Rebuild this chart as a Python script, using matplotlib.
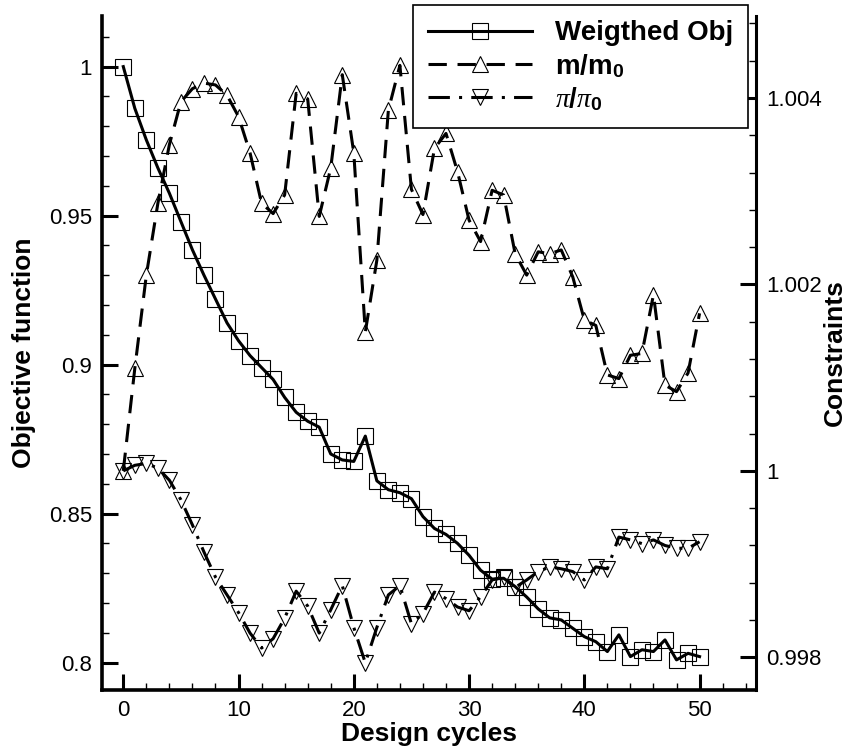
import numpy as np
import matplotlib
matplotlib.use("Agg")
import matplotlib.pyplot as plt
from matplotlib.ticker import MultipleLocator

plt.rcParams["font.family"] = ["Liberation Sans", "DejaVu Sans"]
plt.rcParams["mathtext.fontset"] = "custom"
plt.rcParams["mathtext.rm"] = "Liberation Sans:bold"
plt.rcParams["mathtext.bf"] = "Liberation Sans:bold"
plt.rcParams["mathtext.it"] = "Liberation Serif:italic"

cycles = np.arange(0, 51)

# weighted objective (left axis)
weighted_obj = [
    1.000, 0.986, 0.9754, 0.966, 0.9575, 0.948, 0.9385, 0.930, 0.922, 0.914,
    0.908, 0.903, 0.899, 0.895, 0.889, 0.884, 0.881, 0.879, 0.870, 0.868,
    0.8675, 0.876, 0.861, 0.858, 0.857, 0.855, 0.849, 0.845, 0.843, 0.840,
    0.836, 0.831, 0.828, 0.8283, 0.8255, 0.822, 0.818, 0.815, 0.8143, 0.8115,
    0.8087, 0.807, 0.8037, 0.8093, 0.802, 0.8043, 0.8037, 0.8076, 0.8009, 0.8031,
    0.802,
]

# constraints (right axis)
mass_ratio = [
    1.0000, 1.0011, 1.0021, 1.00287, 1.0035, 1.00396, 1.0041, 1.00416, 1.00414, 1.00403,
    1.0038, 1.00341, 1.00287, 1.00276, 1.00296, 1.00405, 1.00399, 1.00273, 1.00325, 1.00425,
    1.00341, 1.00149, 1.00226, 1.00387, 1.00435, 1.00302, 1.00275, 1.00346, 1.00362, 1.00321,
    1.00269, 1.00246, 1.00301, 1.00296, 1.00233, 1.0021, 1.00235, 1.00233, 1.00237, 1.00208,
    1.00162, 1.00156, 1.00103, 1.00099, 1.00124, 1.00126, 1.00189, 1.00092, 1.00085, 1.00105,
    1.00169,
]
pressure_ratio = [
    1.0000, 1.00006, 1.00008, 1.00003, 0.9999, 0.99969, 0.99942, 0.99913, 0.99886, 0.99867,
    0.99848, 0.99826, 0.99810, 0.99820, 0.99842, 0.99871, 0.99855, 0.99826, 0.99851, 0.99877,
    0.99832, 0.99794, 0.99832, 0.99867, 0.99877, 0.99836, 0.99847, 0.99870, 0.99863, 0.99854,
    0.99850, 0.99865, 0.99883, 0.99886, 0.99875, 0.99883, 0.99892, 0.99897, 0.99895, 0.99892,
    0.99883, 0.99897, 0.99895, 0.99929, 0.99926, 0.99922, 0.99926, 0.99920, 0.99917, 0.99917,
    0.99924,
]

x_ticks = [0, 10, 20, 30, 40, 50]
obj_ticks = [0.8, 0.85, 0.9, 0.95, 1.0]
obj_labels = ["0.8", "0.85", "0.9", "0.95", "1"]
con_ticks = [0.998, 1.0, 1.002, 1.004]
con_labels = ["0.998", "1", "1.002", "1.004"]

fig = plt.figure(figsize=(8.49, 7.53), dpi=100)
ax = fig.add_axes([0.1201, 0.0837, 0.7704, 0.8951])
ax2 = ax.twinx()

l1, = ax.plot(cycles, weighted_obj, color="black", lw=2.2, ls="-",
              marker="s", ms=11, mfc="none", mec="black", mew=0.8,
              label="Weigthed Obj")
l2, = ax2.plot(cycles, mass_ratio, color="black", lw=2.2, dashes=(6, 3.5),
               marker="^", ms=12, mfc="none", mec="black", mew=0.8,
               label="m/m$_0$")
l3, = ax2.plot(cycles, pressure_ratio, color="black", lw=2.2,
               dashes=(7, 3, 1, 3),
               marker="v", ms=11, mfc="none", mec="black", mew=0.8,
               label=r"$\pi/\pi_0$")

ax.set_xlim(-1.85, 54.9)
ax.set_ylim(0.7908, 1.017)
ax2.set_ylim(0.99765, 1.00488)

ax.set_xticks(x_ticks)
ax.xaxis.set_minor_locator(MultipleLocator(2))
ax.set_yticks(obj_ticks, obj_labels)
ax.yaxis.set_minor_locator(MultipleLocator(0.01))
ax2.set_yticks(con_ticks, con_labels)
ax2.yaxis.set_minor_locator(MultipleLocator(0.0004))

for a in (ax, ax2):
    a.spines["top"].set_visible(False)
    a.tick_params(which="major", direction="in", length=11.5, width=2.2,
                  labelsize=16, pad=7)
    a.tick_params(which="minor", direction="in", length=5, width=1.0)
ax.tick_params(axis="x", which="both", top=False)
ax.tick_params(axis="y", which="both", right=False)
for s in ("left", "bottom"):
    ax.spines[s].set_linewidth(2.6)
ax2.spines["right"].set_linewidth(2.2)
ax2.spines["left"].set_visible(False)
ax2.spines["bottom"].set_visible(False)

ax.set_xlabel("Design cycles", fontsize=19, fontweight="bold", labelpad=1)
ax.set_ylabel("Objective function", fontsize=19, fontweight="bold", labelpad=9)
ax2.set_ylabel("Constraints", fontsize=19, fontweight="bold", labelpad=1)

leg = ax2.legend(handles=[l1, l2, l3], loc="upper right",
                 bbox_to_anchor=(0.9878, 1.0163), borderaxespad=0,
                 prop={"weight": "bold", "size": 20}, handlelength=3.75,
                 handletextpad=0.8, borderpad=0.55, labelspacing=0.2,
                 fancybox=False, framealpha=1, edgecolor="black")
leg.get_frame().set_linewidth(1.2)
leg.set_zorder(10)

fig.savefig("out.png", dpi=100)
